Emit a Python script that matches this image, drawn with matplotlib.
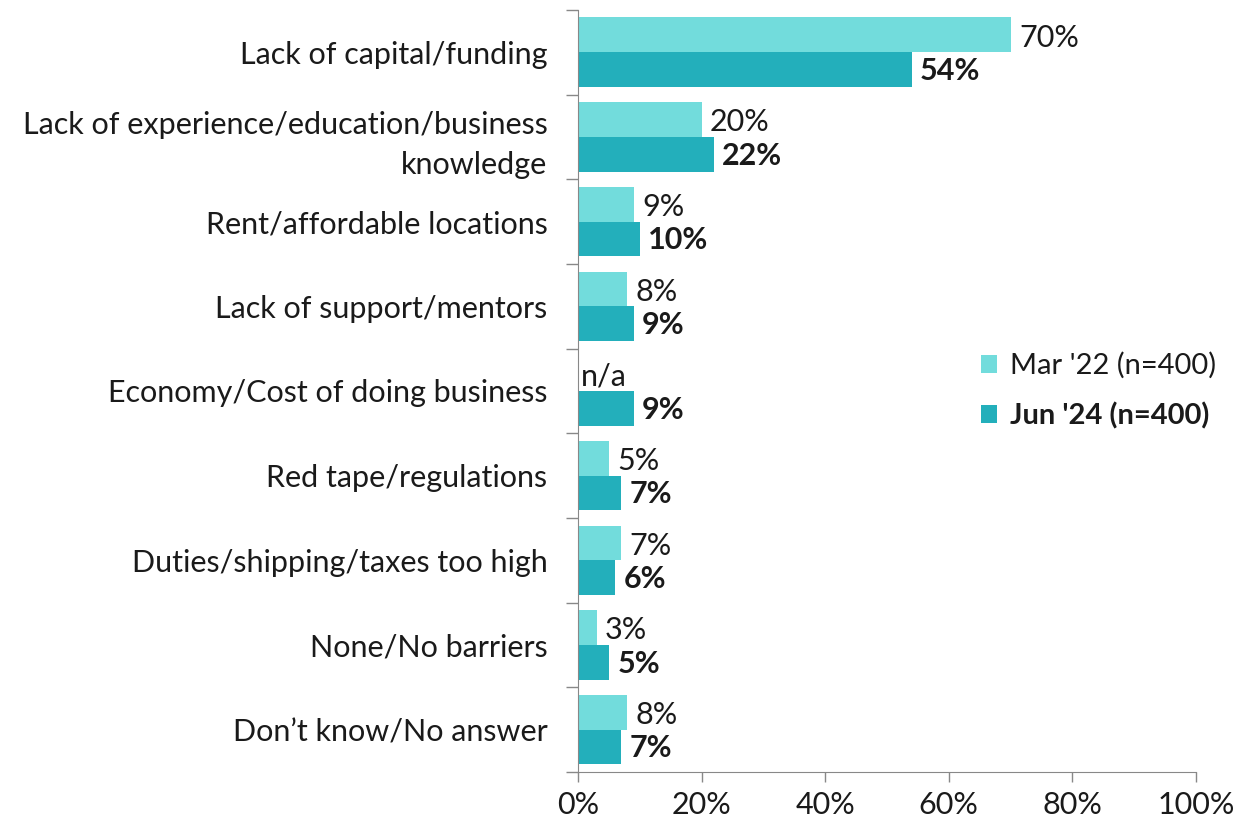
import matplotlib.pyplot as plt
import numpy as np

# Barriers to starting a business, share of respondents (%)
categories = ['Lack of capital/funding',
              'Lack of experience/education/business\nknowledge',
              'Rent/affordable locations',
              'Lack of support/mentors',
              'Economy/Cost of doing business',
              'Red tape/regulations',
              'Duties/shipping/taxes too high',
              'None/No barriers',
              'Don\u2019t know/No answer']
mar22 = [70, 20, 9, 8, None, 5, 7, 3, 8]   # None = n/a
jun24 = [54, 22, 10, 9, 9, 7, 6, 5, 7]
series_names = ["Mar '22 (n=400)", "Jun '24 (n=400)"]
x_ticks = [0, 20, 40, 60, 80, 100]

light = '#72dcdc'
dark = '#23afbb'
txt = '#1a1a1a'
font = 'Lato'
fs = 22

fig = plt.figure(figsize=(12.34, 8.23), dpi=100)
ax = fig.add_axes([0.4684, 0.062, 0.5008, 0.926])

y = np.arange(len(categories))
h = 0.41
mar_vals = [v if v is not None else 0 for v in mar22]
ax.barh(y - h / 2, mar_vals, height=h, color=light, label=series_names[0])
ax.barh(y + h / 2, jun24, height=h, color=dark, label=series_names[1])

for i, v in enumerate(mar22):
    label = 'n/a' if v is None else f'{v}%'
    ax.annotate(label, (mar_vals[i], y[i] - h / 2), xytext=(6 if v is not None else 2, -2),
                textcoords='offset points', va='center', ha='left',
                fontsize=fs, color=txt, family=font)
for i, v in enumerate(jun24):
    ax.annotate(f'{v}%', (v, y[i] + h / 2), xytext=(6, -1),
                textcoords='offset points', va='center', ha='left',
                fontsize=fs, color=txt, family=font, fontweight='bold')

ax.set_xlim(0, 100)
ax.set_ylim(len(categories) - 0.5, -0.5)
ax.set_xticks(x_ticks)
ax.set_xticklabels([f'{t}%' for t in x_ticks], fontsize=fs, color=txt, family=font)
ax.set_yticks(y)
ax.set_yticklabels(categories, fontsize=fs, color=txt, family=font, linespacing=1.5)
ax.set_yticks(np.arange(len(categories) + 1) - 0.5, minor=True)
ax.tick_params(axis='y', which='major', length=0, pad=22)
ax.tick_params(axis='y', which='minor', length=9, color='#888888', width=1)
ax.tick_params(axis='x', length=7, color='#888888', width=1, pad=7)

for s in ['top', 'right']:
    ax.spines[s].set_visible(False)
for s in ['left', 'bottom']:
    ax.spines[s].set_color('#888888')

leg = ax.legend(loc='center left', bbox_to_anchor=(0.61, 0.50), frameon=False,
                prop={'family': font, 'size': 21}, handlelength=0.55, handleheight=0.55,
                handletextpad=0.45, labelspacing=0.8)
for t in leg.get_texts():
    t.set_color(txt)
leg.get_texts()[1].set_fontweight('bold')

fig.savefig('out.png', dpi=100)
